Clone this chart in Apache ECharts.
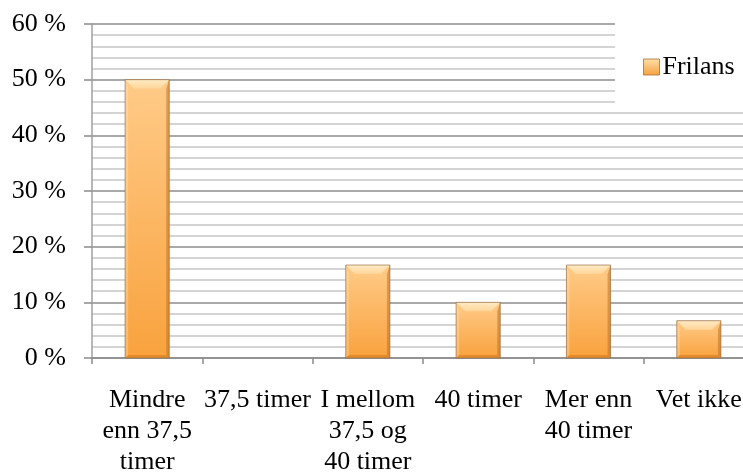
<!DOCTYPE html>
<html>
<head>
<meta charset="utf-8">
<script src="https://cdn.jsdelivr.net/npm/echarts@6/dist/echarts.min.js"></script>
<style>
  html, body { margin: 0; padding: 0; background: #fff; }
  #chart { width: 743px; height: 475px; }
</style>
</head>
<body>
<div id="chart"></div>
<script>
// Working-hours categories and share of freelancers (percent)
const categories = [
  'Mindre\nenn 37,5\ntimer',
  '37,5 timer',
  'I mellom\n37,5 og\n40 timer',
  '40 timer',
  'Mer enn\n40 timer',
  'Vet ikke'
];
const seriesName = 'Frilans';
const frilans = [50, 0, 16.7, 10, 16.7, 6.7];
const yMin = 0;
const yMax = 60;
const yStep = 10;

const FONT = '"Liberation Serif", "Times New Roman", serif';

// Bevelled bar: body gradient plus lighter top facet and shaded edges
function renderBar(params, api) {
  const idx = api.value(0);
  const val = api.value(1);
  const top = api.coord([idx, val]);
  const base = api.coord([idx, 0]);
  const bw = api.size([1, 0])[0] * 0.4;
  const h = base[1] - top[1];
  if (h <= 0.5) return null;
  const l = top[0] - bw / 2, r = top[0] + bw / 2, t = top[1], b = base[1];
  const tb = Math.min(9, h / 2);   // top facet depth
  const sb = Math.min(3, h / 4);   // side facet width
  return {
    type: 'group',
    children: [
      { type: 'rect', shape: { x: l, y: t, width: bw, height: h },
        style: { fill: new echarts.graphic.LinearGradient(0, 0, 0, 1, [
          { offset: 0, color: '#FFCB88' },
          { offset: 1, color: '#F9A23E' }
        ]) } },
      { type: 'polygon', shape: { points: [[l, t], [r, t], [r - tb, t + tb], [l + tb, t + tb]] },
        style: { fill: new echarts.graphic.LinearGradient(0, 0, 0, 1, [
          { offset: 0, color: '#FFEBC6' },
          { offset: 1, color: '#FFD597' }
        ]) } },
      { type: 'polygon', shape: { points: [[l, t], [l + sb, t + tb], [l + sb, b - sb], [l, b]] },
        style: { fill: 'rgba(255,235,200,0.3)' } },
      { type: 'polygon', shape: { points: [[r, t], [r - sb, t + tb], [r - sb, b - sb], [r, b]] },
        style: { fill: 'rgba(190,110,30,0.5)' } },
      { type: 'polygon', shape: { points: [[l, b], [l + sb, b - sb], [r - sb, b - sb], [r, b]] },
        style: { fill: 'rgba(200,110,20,0.45)' } },
      { type: 'rect', shape: { x: l, y: t, width: bw, height: h },
        style: { fill: 'none', stroke: 'rgba(150,110,70,0.7)', lineWidth: 1 } }
    ]
  };
}

const chart = echarts.init(document.getElementById('chart'), null, { renderer: 'canvas' });
chart.setOption({
  backgroundColor: '#ffffff',
  animation: false,
  grid: {
    left: 92, top: 24, width: 662, height: 334,
    containLabel: false, outerBoundsMode: 'none'
  },
  graphic: [{
    type: 'rect', z: 3, silent: true,
    shape: { x: 615, y: 0, width: 140, height: 107 },
    style: { fill: '#ffffff' }
  }],
  legend: {
    left: 643, top: 54, z: 5,
    padding: 0,
    itemWidth: 16, itemHeight: 16,
    textStyle: { fontFamily: FONT, fontSize: 26, color: '#000', padding: [0, 0, 0, -2] },
    data: [{
      name: seriesName, icon: 'rect',
      itemStyle: {
        color: new echarts.graphic.LinearGradient(0, 0, 0, 1, [
          { offset: 0, color: '#FFE0A8' },
          { offset: 1, color: '#F4A040' }
        ]),
        borderColor: 'rgba(170,110,50,0.8)', borderWidth: 1
      }
    }]
  },
  xAxis: {
    type: 'category',
    data: categories,
    boundaryGap: true,
    axisLine: { show: true, lineStyle: { color: '#8c8c8c', width: 1.5 } },
    axisTick: { show: true, length: 6, lineStyle: { color: '#8c8c8c', width: 1.5 } },
    axisLabel: {
      interval: 0, margin: 27,
      fontFamily: FONT, fontSize: 26, lineHeight: 31, color: '#000'
    },
    splitLine: { show: false }
  },
  yAxis: {
    type: 'value',
    min: yMin, max: yMax, interval: yStep,
    axisLine: { show: true, lineStyle: { color: '#a0a0a0', width: 1.5 } },
    axisTick: { show: true, length: 8, lineStyle: { color: '#8c8c8c', width: 1.5 } },
    axisLabel: {
      margin: 26, fontFamily: FONT, fontSize: 26, color: '#000',
      formatter: v => v + ' %'
    },
    splitLine: { show: true, lineStyle: { color: '#8c8c8c', width: 1.5 } },
    minorTick: { show: false, splitNumber: 5 },
    minorSplitLine: { show: true, lineStyle: { color: '#c6c6c6', width: 1.5 } }
  },
  series: [{
    name: seriesName,
    type: 'custom',
    renderItem: renderBar,
    itemStyle: { color: '#F9A84A' },
    encode: { x: 0, y: 1 },
    data: frilans.map((v, i) => [i, v]),
    z: 2
  }]
});
</script>
</body>
</html>
